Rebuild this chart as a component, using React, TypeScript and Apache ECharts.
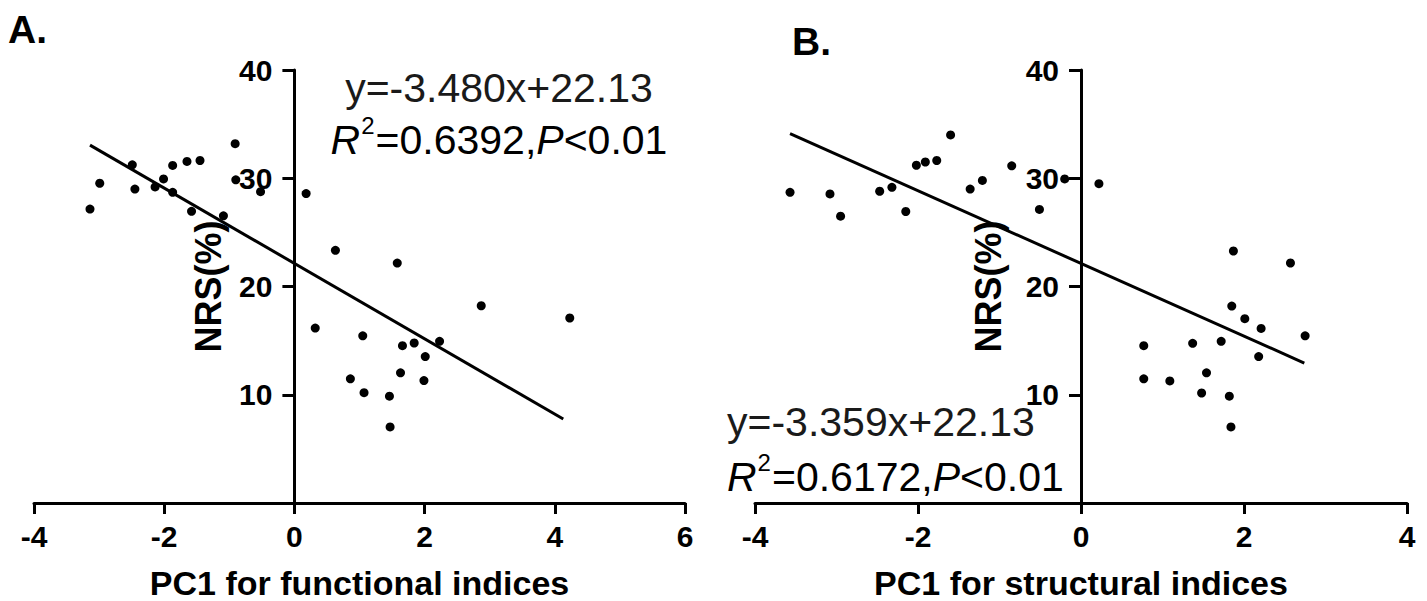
import React, { useEffect, useRef } from "react";
import * as echarts from "echarts";

// Panel A: PC1 for functional indices vs NRS(%)
const funcX = [-3.14, -2.99, -2.49, -2.45, -2.14, -2.01, -1.87, -1.87, -1.65, -1.45, -1.58, -1.09, -0.91, -0.9, -0.52, 0.18, 0.63, 1.58, 0.32, 1.05, 1.66, 1.84, 2.23, 2.01, 1.63, 0.86, 1.99, 1.07, 1.46, 1.47, 2.87, 4.23];
const funcY = [27.15, 29.54, 31.24, 29.0, 29.2, 29.94, 31.18, 28.7, 31.55, 31.64, 26.94, 26.53, 33.19, 29.85, 28.76, 28.58, 23.34, 22.16, 16.16, 15.44, 14.53, 14.78, 14.94, 13.53, 12.03, 11.47, 11.31, 10.19, 9.87, 7.03, 18.22, 17.09];

// Panel B: PC1 for structural indices vs NRS(%)
const structX = [-3.57, -3.08, -2.95, -2.47, -2.32, -2.15, -2.02, -1.91, -1.77, -1.6, -1.36, -1.21, -0.85, -0.51, -0.2, 0.22, 1.87, 2.57, 1.85, 2.01, 2.21, 2.75, 0.77, 1.37, 1.72, 2.18, 1.54, 0.77, 1.09, 1.48, 1.82, 1.84];
const structY = [28.7, 28.55, 26.5, 28.8, 29.16, 26.93, 31.2, 31.5, 31.64, 34.0, 29.0, 29.8, 31.15, 27.12, 29.94, 29.5, 23.28, 22.17, 18.19, 17.03, 16.13, 15.44, 14.53, 14.75, 14.94, 13.53, 12.03, 11.47, 11.28, 10.16, 9.87, 7.03];

// Regression line end points
const fitAX = [-3.14, 4.13];
const fitAY = [33.06, 7.76];
const fitBX = [-3.57, 2.74];
const fitBY = [34.12, 12.93];

const panelLabels = ["A.", "B."];
const xTitles = ["PC1 for functional indices", "PC1 for structural indices"];
const yTitle = "NRS(%)";
const eqLine1 = ["y=-3.480x+22.13", "y=-3.359x+22.13"];
const eqR2 = ["0.6392", "0.6172"];
const eqP = ["0.01", "0.01"];

const FONT = "'Liberation Sans', Arial, Helvetica, sans-serif";

function pairs(xs: number[], ys: number[]) {
  return xs.map((x, i) => [x, ys[i]]);
}

// grid geometry
const GA = { left: 34, top: 70, width: 651, height: 433 };
const GB = { left: 755, top: 70, width: 652, height: 433 };
const XA = [-4, 6];
const XB = [-4, 4];

export default function App() {
  const ref = useRef<HTMLDivElement>(null);

  useEffect(() => {
    if (!ref.current) return;
    const chart = echarts.init(ref.current, undefined, { renderer: "svg" });

    const axisLine = { lineStyle: { color: "#000", width: 3 } };
    const tickLabel = {
      color: "#000",
      fontFamily: FONT,
      fontWeight: "bold" as const,
      fontSize: 30,
    };

    const makeX = (gi: number, min: number, max: number, name: string) => ({
      type: "value",
      gridIndex: gi,
      min,
      max,
      interval: 2,
      splitLine: { show: false },
      axisLine: { show: true, onZero: false, ...axisLine },
      axisTick: { show: true, inside: false, length: 11, lineStyle: { color: "#000", width: 3 } },
      axisLabel: { ...tickLabel, margin: 18 },
      name,
      nameLocation: "middle",
      nameGap: 80,
      nameTextStyle: {
        color: "#000",
        fontFamily: FONT,
        fontWeight: "bold",
        fontSize: 34,
        verticalAlign: "middle",
      },
    });

    const makeY = (gi: number, g: any, xr: number[], gap: number) => ({
      type: "value",
      gridIndex: gi,
      min: 0,
      max: 40,
      interval: 10,
      position: "left",
      offset: -(g.width * (0 - xr[0])) / (xr[1] - xr[0]),
      splitLine: { show: false },
      axisLine: { show: true, onZero: false, ...axisLine },
      axisTick: { show: true, inside: false, length: 12, lineStyle: { color: "#000", width: 3 } },
      axisLabel: {
        ...tickLabel,
        margin: 22,
        formatter: (v: number) => (v === 0 ? "" : String(v)),
      },
      name: yTitle,
      nameLocation: "middle",
      nameRotate: 90,
      nameGap: gap,
      nameTextStyle: {
        color: "#000",
        fontFamily: FONT,
        fontWeight: "bold",
        fontSize: 36,
        verticalAlign: "middle",
        align: "center",
      },
    });

    const eqStyle = {
      fontFamily: FONT,
      fontSize: 41,
      fill: "#1a1a1a",
    };
    const rich = {
      n: { fontFamily: FONT, fontSize: 41, color: "#1a1a1a" },
      i: { fontFamily: FONT, fontSize: 41, color: "#1a1a1a", fontStyle: "italic" },
      s: { fontFamily: FONT, fontSize: 24, color: "#1a1a1a", padding: [0, 1, 30, 1] },
    };

    const eqText = (k: number) =>
      `{i|R}{s|2}{n|=${eqR2[k]},}{i|P}{n|<${eqP[k]}}`;

    chart.setOption({
      animation: false,
      backgroundColor: "#fff",
      grid: [
        { ...GA, containLabel: false, outerBoundsMode: "none" },
        { ...GB, containLabel: false, outerBoundsMode: "none" },
      ],
      xAxis: [makeX(0, XA[0], XA[1], xTitles[0]), makeX(1, XB[0], XB[1], xTitles[1])],
      yAxis: [makeY(0, GA, XA, 86), makeY(1, GB, XB, 93)],
      series: [
        {
          type: "scatter",
          xAxisIndex: 0,
          yAxisIndex: 0,
          data: pairs(funcX, funcY),
          symbol: "circle",
          symbolSize: 9,
          itemStyle: { color: "#000", opacity: 1 },
          z: 3,
        },
        {
          type: "line",
          xAxisIndex: 0,
          yAxisIndex: 0,
          data: pairs(fitAX, fitAY),
          symbol: "none",
          lineStyle: { color: "#000", width: 3 },
          z: 4,
        },
        {
          type: "scatter",
          xAxisIndex: 1,
          yAxisIndex: 1,
          data: pairs(structX, structY),
          symbol: "circle",
          symbolSize: 9,
          itemStyle: { color: "#000", opacity: 1 },
          z: 3,
        },
        {
          type: "line",
          xAxisIndex: 1,
          yAxisIndex: 1,
          data: pairs(fitBX, fitBY),
          symbol: "none",
          lineStyle: { color: "#000", width: 3 },
          z: 4,
        },
      ],
      graphic: [
        {
          type: "text",
          left: 8,
          top: 10,
          style: { text: panelLabels[0], font: `bold 39px ${FONT}`, fill: "#000" },
        },
        {
          type: "text",
          left: 792,
          top: 22,
          style: { text: panelLabels[1], font: `bold 39px ${FONT}`, fill: "#000" },
        },
        {
          type: "text",
          x: 499,
          y: 88,
          style: { ...eqStyle, text: eqLine1[0], align: "center", verticalAlign: "middle" },
        },
        {
          type: "text",
          x: 499,
          y: 140,
          style: { text: eqText(0), rich, align: "center", verticalAlign: "middle" },
        },
        {
          type: "text",
          x: 727,
          y: 422,
          style: { ...eqStyle, text: eqLine1[1], align: "left", verticalAlign: "middle" },
        },
        {
          type: "text",
          x: 727,
          y: 477,
          style: { text: eqText(1), rich, align: "left", verticalAlign: "middle" },
        },
      ],
    });

    return () => chart.dispose();
  }, []);

  return (
    <div
      ref={ref}
      style={{ position: "absolute", left: 0, top: 0, width: 1427, height: 601, background: "#fff" }}
    />
  );
}
